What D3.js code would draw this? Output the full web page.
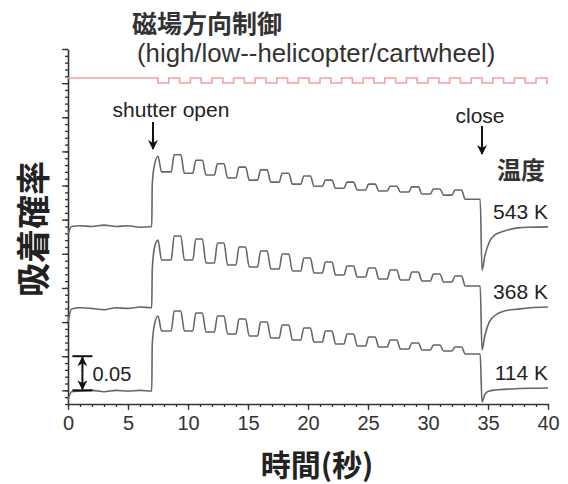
<!DOCTYPE html>
<html><head><meta charset="utf-8">
<script src="https://cdn.jsdelivr.net/npm/d3@7"></script>
<style>body{margin:0;background:#fff}svg{display:block}</style>
</head><body><svg id="c" width="568" height="484"></svg>
<script>
// ---------- data ----------
const xTickValues = [0, 5, 10, 15, 20, 25, 30, 35, 40];
const tempLabels = ["543 K", "368 K", "114 K"];
const shutterOpenTime = 7.0;
const closeTime = 34.35;
// start of each "high" step of the adsorption signal (s)
const topStarts = [8.6, 10.4, 12.2, 14.0, 15.8, 17.6, 19.4, 21.2, 23.0, 24.8, 26.6, 28.4, 30.2, 32.0];
// magnetic field direction (1 = high, 0 = low) switching times
const fieldSwitchTimes = [7.5, 8.4, 9.3, 10.2, 11.1, 12.0, 12.9, 13.8, 14.7, 15.6, 16.5, 17.4, 18.3, 19.2,
  20.1, 21.0, 21.9, 22.8, 23.7, 24.6, 25.5, 26.4, 27.3, 28.2, 29.1, 30.0, 30.9, 31.8, 32.7, 33.6, 34.5,
  35.4, 36.3, 37.2, 38.1, 39.0, 39.9];

// 543 K
const base543 = [[0, 0.228], [0.3, 0.240], [1, 0.241], [2, 0.240], [3, 0.242], [4, 0.240], [5, 0.241], [6, 0.239], [6.98, 0.240]];
const rise543 = [[7.02, 0.301], [7.2, 0.330], [7.5, 0.343], [7.8, 0.320]];
const tops543 = [0.345, 0.337, 0.332, 0.327, 0.323, 0.318, 0.314, 0.308, 0.305, 0.302, 0.299, 0.298, 0.295, 0.2935];
const lows543 = [0.318, 0.3155, 0.311, 0.308, 0.305, 0.302, 0.299, 0.296, 0.2935, 0.292, 0.2905, 0.2875, 0.286, 0.280];
const close543 = [[34.5, 0.176], [34.75, 0.198], [35.1, 0.217], [35.6, 0.228], [36.3, 0.233], [37.5, 0.238], [38.5, 0.239], [40, 0.2395]];

// 368 K
const base368 = [[0, 0.100], [0.3, 0.119], [1, 0.121], [2, 0.120], [3, 0.118], [4, 0.121], [5, 0.120], [6, 0.122], [6.98, 0.121]];
const rise368 = [[7.02, 0.176], [7.2, 0.2085], [7.5, 0.220], [7.8, 0.191]];
const tops368 = [0.226, 0.2217, 0.2159, 0.210, 0.2041, 0.1997, 0.1939, 0.188, 0.1822, 0.1792, 0.1763, 0.1734, 0.1704, 0.1675];
const lows368 = [0.191, 0.1866, 0.1836, 0.1807, 0.1778, 0.1748, 0.1719, 0.169, 0.166, 0.1631, 0.1616, 0.1602, 0.1587, 0.1529];
const close368 = [[34.5, 0.059], [34.75, 0.081], [35.1, 0.100], [35.6, 0.110], [36.3, 0.116], [37.5, 0.119], [38.5, 0.121], [40, 0.122]];

// 114 K
const base114 = [[0, -0.014], [0.3, -0.002], [1, -0.001], [2, 0.000], [3, -0.002], [4, 0.000], [5, -0.001], [6, 0.000], [6.98, -0.001]];
const rise114 = [[7.02, 0.0665], [7.2, 0.096], [7.5, 0.109], [7.8, 0.087]];
const tops114 = [0.1163, 0.1133, 0.1089, 0.1045, 0.1001, 0.0957, 0.0913, 0.0869, 0.0826, 0.0782, 0.0738, 0.0694, 0.0665, 0.0635];
const lows114 = [0.0869, 0.0855, 0.0826, 0.0796, 0.0767, 0.0738, 0.0708, 0.0679, 0.065, 0.0635, 0.0606, 0.0591, 0.0577, 0.0532];
const close114 = [[34.5, -0.017], [34.75, -0.0054], [35.1, -0.001], [35.6, 0.0005], [37, 0.002], [38.5, 0.003], [40, 0.0035]];

const scaleBarValue = 0.05;

// ---------- chart ----------
const svg = d3.select("#c");
const W = 568, H = 484;
const m = {left: 68, right: 20, top: 49, bottom: 80};
const x = d3.scaleLinear().domain([0, 40]).range([m.left, W - m.right]);
const y = d3.scaleLinear().domain([-0.02, 0.50]).range([H - m.bottom, m.top]);
const yField = d3.scaleLinear().domain([0, 1]).range([83, 78]);
const FONT = "'Liberation Sans', Arial, Helvetica, sans-serif";
const CJK = "'Noto Sans CJK JP', 'Noto Sans CJK SC', sans-serif";
const axisColor = "#333";

// axes
const gx = svg.append("g").attr("transform", `translate(0,${y.range()[0]})`);
gx.call(d3.axisBottom(x).tickValues(d3.range(0, 41, 1)).tickSize(3).tickFormat(""));
gx.call(g => g.select(".domain").remove());
const gx2 = svg.append("g").attr("transform", `translate(0,${y.range()[0]})`);
gx2.call(d3.axisBottom(x).tickValues(xTickValues).tickSize(6).tickSizeOuter(0).tickPadding(6).tickFormat(d3.format("d")));
gx2.selectAll("text").attr("font-family", FONT).attr("font-size", 20).attr("fill", "#333");

const gy = svg.append("g").attr("transform", `translate(${m.left},0)`);
gy.call(d3.axisLeft(y).tickValues(d3.range(-0.02, 0.5001, 0.01)).tickSize(3).tickFormat(""));
gy.call(g => g.select(".domain").remove());
const gy2 = svg.append("g").attr("transform", `translate(${m.left},0)`);
gy2.call(d3.axisLeft(y).tickValues(d3.range(0, 0.5001, 0.05)).tickSize(6).tickSizeOuter(0).tickFormat(""));
svg.selectAll(".tick line").attr("stroke", axisColor).attr("stroke-width", 1.3);
svg.selectAll(".domain").attr("stroke", axisColor).attr("stroke-width", 1.6);

// field square wave
const fieldPts = [[0, 1]];
fieldSwitchTimes.forEach((t, i) => fieldPts.push([t, i % 2 === 0 ? 0 : 1]));
fieldPts.push([40, fieldPts[fieldPts.length - 1][1]]);
svg.append("path")
  .attr("d", d3.line().x(d => x(d[0])).y(d => yField(d[1])).curve(d3.curveStepAfter)(fieldPts))
  .attr("fill", "none").attr("stroke", "#f2a0a0").attr("stroke-width", 1.6);

// curves
function buildCurve(base, rise, tops, lows, close) {
  const pts = base.concat(rise);
  let prev = rise[rise.length - 1][1];
  topStarts.forEach((ts, i) => {
    pts.push([ts, prev], [ts + 0.25, tops[i]], [ts + 0.8, tops[i]], [ts + 1.1, lows[i]]);
    prev = lows[i];
  });
  pts.push([closeTime, prev]);
  return pts.concat(close);
}
const curves = [
  buildCurve(base543, rise543, tops543, lows543, close543),
  buildCurve(base368, rise368, tops368, lows368, close368),
  buildCurve(base114, rise114, tops114, lows114, close114)
];
const line = d3.line().x(d => x(d[0])).y(d => y(d[1])).curve(d3.curveMonotoneX);
svg.selectAll("path.curve").data(curves).enter().append("path")
  .attr("class", "curve").attr("d", line)
  .attr("fill", "none").attr("stroke", "#666").attr("stroke-width", 1.6).attr("stroke-linejoin", "round");

// temperature labels
const labelY = [219, 299, 380];
svg.selectAll("text.temp").data(tempLabels).enter().append("text")
  .attr("class", "temp").attr("x", 548).attr("y", (d, i) => labelY[i])
  .attr("text-anchor", "end").attr("font-family", FONT).attr("font-size", 21).attr("fill", "#222")
  .text(d => d);
svg.append("text").attr("x", 521).attr("y", 179).attr("text-anchor", "middle")
  .attr("font-family", CJK).attr("font-size", 24).attr("font-weight", 700).attr("fill", "#333").text("温度");

// arrows
svg.append("defs").append("marker").attr("id", "ah").attr("viewBox", "0 0 10 10")
  .attr("refX", 9).attr("refY", 5).attr("markerWidth", 11).attr("markerHeight", 10)
  .attr("markerUnits", "userSpaceOnUse").attr("orient", "auto-start-reverse")
  .append("path").attr("d", "M0,0 L10,5 L0,10 L3,5 z").attr("fill", "#111");
function arrow(xp, y1, y2) {
  svg.append("line").attr("x1", xp).attr("x2", xp).attr("y1", y1).attr("y2", y2)
    .attr("stroke", "#111").attr("stroke-width", 2).attr("marker-end", "url(#ah)");
}
arrow(x(shutterOpenTime) + 1, 122, 149);
arrow(x(closeTime + 0.15), 126, 154);
svg.append("text").attr("x", 171).attr("y", 117).attr("text-anchor", "middle")
  .attr("font-family", FONT).attr("font-size", 21).attr("fill", "#222").text("shutter open");
svg.append("text").attr("x", 480).attr("y", 123).attr("text-anchor", "middle")
  .attr("font-family", FONT).attr("font-size", 21).attr("fill", "#222").text("close");

// scale bar
const sbx = x(1.2);
const sbTop = y(scaleBarValue), sbBot = y(0);
[sbTop, sbBot].forEach(v => svg.append("line").attr("x1", sbx - 10).attr("x2", sbx + 10).attr("y1", v).attr("y2", v)
  .attr("stroke", "#111").attr("stroke-width", 2));
svg.append("line").attr("x1", sbx).attr("x2", sbx).attr("y1", (sbTop + sbBot) / 2).attr("y2", sbTop + 1)
  .attr("stroke", "#111").attr("stroke-width", 2).attr("marker-end", "url(#ah)");
svg.append("line").attr("x1", sbx).attr("x2", sbx).attr("y1", (sbTop + sbBot) / 2).attr("y2", sbBot - 1)
  .attr("stroke", "#111").attr("stroke-width", 2).attr("marker-end", "url(#ah)");
svg.append("text").attr("x", sbx + 10).attr("y", (sbTop + sbBot) / 2 + 8)
  .attr("font-family", FONT).attr("font-size", 20).attr("fill", "#222").text(String(scaleBarValue));

// titles
svg.append("text").attr("x", 132).attr("y", 33)
  .attr("font-family", CJK).attr("font-size", 25).attr("font-weight", 700).attr("fill", "#333").text("磁場方向制御");
svg.append("text").attr("x", 137).attr("y", 62)
  .attr("font-family", FONT).attr("font-size", 25.8).attr("fill", "#333").text("(high/low--helicopter/cartwheel)");

// axis titles
svg.append("text").attr("x", (x.range()[0] + x.range()[1]) / 2 + 9).attr("y", 476).attr("text-anchor", "middle")
  .attr("font-family", CJK).attr("font-size", 30).attr("font-weight", 700).attr("fill", "#222").text("時間(秒)");
svg.append("text").attr("transform", `translate(46,229) rotate(-90)`).attr("text-anchor", "middle")
  .attr("font-family", CJK).attr("font-size", 34).attr("font-weight", 700).attr("fill", "#222").text("吸着確率");
</script>
</body></html>
